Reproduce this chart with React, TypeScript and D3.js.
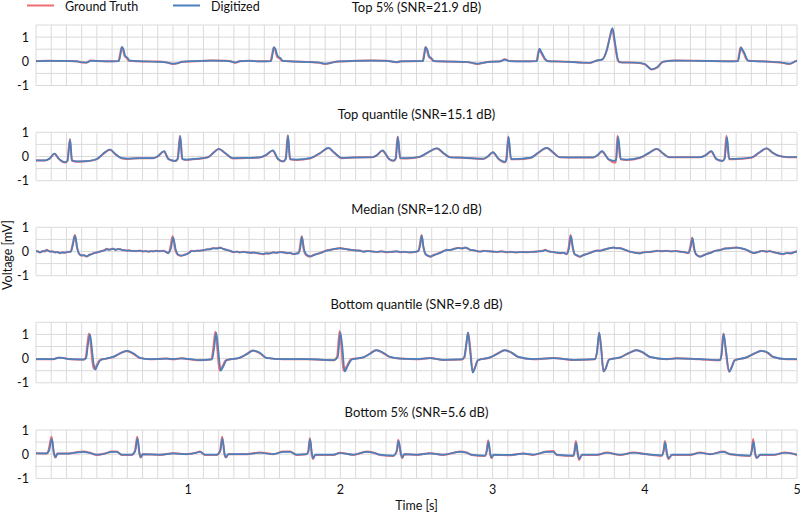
import React, { useEffect, useRef } from 'react'
import * as d3 from 'd3'

type Pt = [number, number]

// Panel titles and y ranges (mV)
const titles = [
  'Top 5% (SNR=21.9 dB)',
  'Top quantile (SNR=15.1 dB)',
  'Median (SNR=12.0 dB)',
  'Bottom quantile (SNR=9.8 dB)',
  'Bottom 5% (SNR=5.6 dB)',
]
const yDomains: Pt[] = [[-1, 1.5], [-1, 1], [-1, 1], [-1, 1.5], [-1, 1]]
const yTickValues = [-1, 0, 1]
const xTickValues = [1, 2, 3, 4, 5]
const legendLabels = ['Ground Truth', 'Digitized']

// Traces: [time s, voltage mV]
const truthTop5: Pt[] = [
  [0, 0.01], [0.08, 0.02], [0.18, 0.01], [0.27, 0.0], [0.3, -0.05], [0.33, -0.05], [0.36, 0.03], [0.4, 0.01], [0.47, 0.0],
  [0.54, 0.01], [0.553, 0.3], [0.562, 0.57], [0.572, 0.47], [0.582, 0.22], [0.592, 0.16], [0.6, 0.1], [0.61, 0.02],
  [0.7, -0.01], [0.8, -0.01], [0.86, -0.05], [0.9, -0.11], [0.93, -0.08], [0.96, -0.02], [1.05, 0.0], [1.15, 0.03],
  [1.25, 0.02], [1.29, -0.02], [1.31, -0.06], [1.34, 0.0], [1.4, 0.02], [1.47, 0.0], [1.54, 0.01], [1.552, 0.3],
  [1.561, 0.57], [1.571, 0.47], [1.582, 0.22], [1.594, 0.14], [1.605, 0.1], [1.615, 0.02], [1.7, -0.01], [1.8, -0.03],
  [1.86, -0.06], [1.9, -0.11], [1.94, -0.06], [1.98, -0.01], [2.1, 0.02], [2.2, 0.03], [2.3, 0.02], [2.35, -0.02],
  [2.37, -0.04], [2.4, 0.0], [2.54, 0.01], [2.55, 0.3], [2.558, 0.58], [2.568, 0.47], [2.58, 0.2], [2.59, 0.14],
  [2.6, 0.08], [2.612, 0.01], [2.7, -0.01], [2.83, -0.03], [2.88, -0.09], [2.9, -0.11], [2.94, -0.06], [2.98, -0.02],
  [3.05, 0.0], [3.08, 0.08], [3.11, 0.01], [3.2, 0.0], [3.288, 0.01], [3.298, 0.3], [3.306, 0.5], [3.318, 0.36],
  [3.33, 0.22], [3.345, 0.07], [3.36, 0.01], [3.5, -0.02], [3.6, -0.06], [3.64, -0.07], [3.684, 0.03], [3.72, 0.07],
  [3.75, 0.47], [3.771, 1.02], [3.785, 1.33], [3.804, 0.68], [3.822, 0.05], [3.835, -0.04], [3.947, -0.06],
  [4.0, -0.12], [4.045, -0.34], [4.08, -0.26], [4.12, -0.02], [4.2, 0.03], [4.35, 0.02], [4.45, 0.01], [4.55, 0.0],
  [4.61, 0.01], [4.62, 0.3], [4.629, 0.57], [4.64, 0.45], [4.652, 0.32], [4.665, 0.12], [4.68, 0.02], [4.8, -0.01],
  [4.9, -0.06], [4.95, -0.11], [4.99, 0.0], [5.0, 0.02],
]
const digitTop5: Pt[] = [
  [0, 0.0], [0.08, 0.02], [0.18, 0.02], [0.27, 0.0], [0.3, -0.04], [0.33, -0.06], [0.36, 0.02], [0.4, 0.02], [0.47, 0.0],
  [0.545, 0.01], [0.556, 0.32], [0.565, 0.6], [0.575, 0.5], [0.585, 0.25], [0.595, 0.17], [0.604, 0.12], [0.615, 0.03],
  [0.7, 0.0], [0.8, -0.02], [0.86, -0.05], [0.9, -0.1], [0.93, -0.08], [0.96, -0.02], [1.05, 0.01], [1.15, 0.03],
  [1.25, 0.02], [1.29, -0.02], [1.31, -0.05], [1.34, 0.01], [1.4, 0.02], [1.47, 0.0], [1.545, 0.01], [1.555, 0.32],
  [1.564, 0.59], [1.574, 0.5], [1.586, 0.25], [1.598, 0.16], [1.608, 0.12], [1.62, 0.02], [1.7, -0.01], [1.8, -0.03],
  [1.86, -0.05], [1.9, -0.1], [1.94, -0.06], [1.98, -0.01], [2.1, 0.02], [2.2, 0.03], [2.3, 0.02], [2.35, -0.02],
  [2.37, -0.03], [2.4, 0.0], [2.543, 0.01], [2.553, 0.32], [2.561, 0.59], [2.571, 0.49], [2.583, 0.22], [2.593, 0.15],
  [2.603, 0.09], [2.615, 0.01], [2.7, -0.01], [2.83, -0.03], [2.88, -0.08], [2.9, -0.1], [2.94, -0.06], [2.98, -0.02],
  [3.05, 0.0], [3.08, 0.07], [3.11, 0.01], [3.2, 0.0], [3.291, 0.01], [3.301, 0.32], [3.309, 0.52], [3.321, 0.38],
  [3.333, 0.24], [3.348, 0.08], [3.363, 0.01], [3.5, -0.02], [3.6, -0.06], [3.64, -0.06], [3.684, 0.03], [3.72, 0.08],
  [3.752, 0.49], [3.773, 1.05], [3.788, 1.37], [3.806, 0.7], [3.824, 0.06], [3.837, -0.04], [3.947, -0.06],
  [4.0, -0.11], [4.045, -0.33], [4.08, -0.25], [4.12, -0.02], [4.2, 0.03], [4.35, 0.02], [4.45, 0.01], [4.55, 0.0],
  [4.613, 0.01], [4.623, 0.32], [4.632, 0.58], [4.643, 0.47], [4.655, 0.34], [4.668, 0.13], [4.683, 0.02], [4.8, -0.01],
  [4.9, -0.05], [4.95, -0.1], [4.99, 0.0], [5.0, 0.02],
]

const truthTopQ: Pt[] = [
  [0, -0.17], [0.06, -0.17], [0.09, -0.08], [0.12, 0.11], [0.15, -0.1], [0.19, -0.25], [0.205, -0.2], [0.223, 0.72],
  [0.235, -0.17], [0.27, -0.22], [0.33, -0.2], [0.4, -0.11], [0.44, 0.1], [0.486, 0.28], [0.52, 0.1], [0.563, -0.07],
  [0.6, -0.1], [0.68, -0.07], [0.77, -0.07], [0.8, 0.0], [0.84, 0.21], [0.87, -0.11], [0.913, -0.19], [0.93, -0.1],
  [0.946, 0.86], [0.96, -0.11], [0.99, -0.14], [1.06, -0.1], [1.13, -0.03], [1.165, 0.15], [1.2, 0.31], [1.24, 0.15],
  [1.295, -0.08], [1.35, -0.07], [1.47, -0.04], [1.51, 0.05], [1.555, 0.24], [1.59, -0.11], [1.625, -0.21], [1.64, -0.1],
  [1.654, 0.88], [1.668, -0.11], [1.71, -0.14], [1.8, -0.08], [1.87, 0.15], [1.92, 0.35], [1.96, 0.15], [2.01, -0.07],
  [2.1, -0.04], [2.21, -0.03], [2.24, 0.05], [2.275, 0.24], [2.32, -0.11], [2.35, -0.18], [2.362, -0.1], [2.376, 0.83],
  [2.392, -0.07], [2.44, -0.08], [2.52, -0.02], [2.58, 0.18], [2.633, 0.33], [2.68, 0.12], [2.72, -0.03], [2.8, -0.05],
  [2.94, -0.1], [2.97, 0.0], [3.0, 0.17], [3.04, -0.11], [3.081, -0.24], [3.09, -0.1], [3.103, 0.83], [3.12, -0.11],
  [3.16, -0.11], [3.25, -0.06], [3.3, 0.15], [3.355, 0.35], [3.4, 0.15], [3.44, -0.03], [3.55, -0.04], [3.66, -0.04],
  [3.69, 0.05], [3.717, 0.21], [3.76, -0.11], [3.81, -0.25], [3.82, 0.86], [3.84, -0.11], [3.88, -0.14], [3.97, -0.05],
  [4.03, 0.15], [4.078, 0.31], [4.12, 0.12], [4.16, -0.03], [4.36, -0.03], [4.4, 0.05], [4.435, 0.21], [4.47, -0.11],
  [4.51, -0.19], [4.523, -0.1], [4.536, 0.86], [4.553, -0.11], [4.58, -0.11], [4.7, -0.05], [4.75, 0.15], [4.8, 0.33],
  [4.84, 0.15], [4.88, 0.03], [4.94, -0.03], [5.0, -0.03],
]
const digitTopQ: Pt[] = [
  [0, -0.16], [0.06, -0.16], [0.09, -0.08], [0.122, 0.12], [0.15, -0.09], [0.19, -0.23], [0.207, -0.18], [0.224, 0.7],
  [0.237, -0.16], [0.27, -0.2], [0.33, -0.19], [0.4, -0.1], [0.44, 0.11], [0.488, 0.29], [0.52, 0.11], [0.563, -0.07],
  [0.6, -0.09], [0.68, -0.07], [0.77, -0.07], [0.8, 0.01], [0.842, 0.22], [0.87, -0.1], [0.913, -0.18], [0.932, -0.09],
  [0.948, 0.84], [0.962, -0.11], [0.99, -0.13], [1.06, -0.09], [1.13, -0.03], [1.167, 0.16], [1.202, 0.32],
  [1.24, 0.16], [1.295, -0.07], [1.35, -0.06], [1.47, -0.04], [1.51, 0.06], [1.557, 0.25], [1.59, -0.1], [1.625, -0.2],
  [1.642, -0.09], [1.656, 0.86], [1.67, -0.11], [1.71, -0.13], [1.8, -0.07], [1.87, 0.16], [1.922, 0.36], [1.96, 0.16],
  [2.01, -0.06], [2.1, -0.04], [2.21, -0.03], [2.24, 0.06], [2.277, 0.25], [2.32, -0.1], [2.35, -0.17], [2.364, -0.09],
  [2.378, 0.81], [2.394, -0.07], [2.44, -0.07], [2.52, -0.01], [2.58, 0.19], [2.635, 0.34], [2.68, 0.13], [2.72, -0.03],
  [2.8, -0.05], [2.94, -0.09], [2.97, 0.01], [3.002, 0.18], [3.04, -0.1], [3.081, -0.22], [3.092, -0.09], [3.105, 0.81],
  [3.122, -0.11], [3.16, -0.1], [3.25, -0.05], [3.3, 0.16], [3.357, 0.36], [3.4, 0.16], [3.44, -0.03], [3.55, -0.04],
  [3.66, -0.04], [3.69, 0.06], [3.719, 0.22], [3.76, -0.1], [3.8, -0.18], [3.812, -0.12], [3.825, 0.82], [3.843, -0.11],
  [3.88, -0.13], [3.97, -0.04], [4.03, 0.16], [4.08, 0.32], [4.12, 0.13], [4.16, -0.03], [4.36, -0.03], [4.4, 0.06],
  [4.437, 0.22], [4.47, -0.1], [4.51, -0.18], [4.525, -0.09], [4.54, 0.8], [4.556, -0.11], [4.58, -0.1], [4.7, -0.04],
  [4.75, 0.16], [4.802, 0.34], [4.84, 0.16], [4.88, 0.03], [4.94, -0.02], [5.0, -0.02],
]

const truthMedian: Pt[] = [
  [0, 0.03], [0.013, -0.01], [0.026, -0.03], [0.045, 0.02], [0.06, 0.0], [0.07, 0.07], [0.08, 0.03], [0.092, 0.0],
  [0.105, 0.01], [0.125, -0.03], [0.14, -0.02], [0.158, -0.07], [0.172, -0.03], [0.185, -0.05], [0.2, -0.03],
  [0.215, -0.01], [0.228, 0.0], [0.24, 0.28], [0.255, 0.68], [0.27, 0.14], [0.285, -0.11], [0.3, -0.17], [0.315, -0.15],
  [0.333, -0.21], [0.35, -0.13], [0.366, -0.11], [0.38, -0.06], [0.395, -0.05], [0.42, 0.0], [0.435, 0.02], [0.45, 0.06],
  [0.464, 0.11], [0.478, 0.07], [0.493, 0.1], [0.508, 0.11], [0.52, 0.07], [0.535, 0.09], [0.552, 0.1], [0.568, 0.05],
  [0.58, 0.06], [0.596, 0.03], [0.61, 0.05], [0.625, 0.02], [0.64, 0.03], [0.66, 0.01], [0.68, 0.04], [0.705, 0.0],
  [0.72, 0.02], [0.74, -0.01], [0.755, 0.02], [0.771, 0.0], [0.79, 0.03], [0.81, 0.01], [0.837, 0.03], [0.855, -0.02],
  [0.868, -0.07], [0.882, 0.14], [0.897, 0.63], [0.915, 0.07], [0.932, -0.14], [0.955, -0.18], [0.975, -0.13],
  [0.99, -0.11], [1.005, -0.04], [1.023, 0.03], [1.04, 0.01], [1.06, 0.04], [1.078, 0.03], [1.1, 0.06], [1.12, 0.08],
  [1.14, 0.1], [1.165, 0.14], [1.185, 0.12], [1.209, 0.17], [1.23, 0.1], [1.253, 0.07], [1.275, 0.02], [1.297, -0.03],
  [1.32, 0.0], [1.34, -0.04], [1.36, -0.01], [1.384, -0.03], [1.41, -0.06], [1.43, -0.04], [1.46, -0.08], [1.494, -0.11],
  [1.51, -0.07], [1.53, -0.09], [1.56, -0.03], [1.58, -0.06], [1.6, -0.02], [1.625, -0.03], [1.645, -0.07],
  [1.67, -0.06], [1.691, -0.11], [1.71, -0.08], [1.723, -0.07], [1.733, 0.14], [1.745, 0.63], [1.759, 0.07],
  [1.774, -0.14], [1.8, -0.21], [1.82, -0.15], [1.844, -0.11], [1.87, -0.05], [1.9, 0.02], [1.932, 0.07], [1.96, 0.1],
  [1.997, 0.14], [2.02, 0.11], [2.041, 0.1], [2.07, 0.06], [2.1, 0.05], [2.129, 0.03], [2.15, 0.0], [2.18, 0.02],
  [2.216, 0.0], [2.24, -0.02], [2.27, 0.01], [2.304, -0.03], [2.33, -0.01], [2.37, 0.0], [2.392, -0.03], [2.42, -0.01],
  [2.45, -0.04], [2.479, -0.03], [2.5, 0.0], [2.512, 0.03], [2.522, 0.28], [2.533, 0.68], [2.544, 0.21], [2.559, -0.11],
  [2.575, -0.18], [2.589, -0.22], [2.61, -0.15], [2.632, -0.11], [2.66, -0.03], [2.68, 0.02], [2.698, 0.07],
  [2.72, 0.06], [2.745, 0.11], [2.775, 0.14], [2.8, 0.13], [2.819, 0.17], [2.835, 0.12], [2.852, 0.07], [2.88, 0.04],
  [2.917, 0.0], [2.94, 0.03], [2.965, 0.01], [3.005, 0.0], [3.03, -0.02], [3.06, 0.01], [3.092, -0.03], [3.12, -0.01],
  [3.15, -0.04], [3.18, -0.02], [3.224, -0.03], [3.26, -0.01], [3.3, 0.0], [3.33, 0.03], [3.345, 0.07], [3.36, 0.02],
  [3.377, 0.0], [3.41, -0.04], [3.443, -0.07], [3.465, -0.05], [3.486, -0.11], [3.499, 0.14], [3.512, 0.68],
  [3.525, 0.17], [3.538, -0.11], [3.555, -0.17], [3.574, -0.22], [3.595, -0.14], [3.618, -0.11], [3.64, -0.05],
  [3.66, -0.01], [3.685, 0.04], [3.705, 0.03], [3.73, 0.08], [3.76, 0.12], [3.793, 0.17], [3.815, 0.13], [3.837, 0.14],
  [3.87, 0.06], [3.902, 0.0], [3.93, -0.05], [3.968, -0.07], [3.99, -0.04], [4.02, -0.02], [4.055, 0.0], [4.08, 0.03],
  [4.11, 0.01], [4.143, 0.03], [4.17, 0.0], [4.2, 0.02], [4.23, 0.0], [4.26, -0.03], [4.285, -0.07], [4.297, 0.14],
  [4.311, 0.58], [4.322, 0.14], [4.335, -0.11], [4.363, -0.22], [4.385, -0.15], [4.406, -0.11], [4.43, -0.05],
  [4.46, 0.02], [4.494, 0.07], [4.53, 0.12], [4.56, 0.14], [4.603, 0.17], [4.63, 0.13], [4.669, 0.07], [4.69, -0.01],
  [4.713, -0.07], [4.74, -0.02], [4.77, 0.02], [4.8, 0.0], [4.82, 0.02], [4.844, -0.03], [4.87, -0.06], [4.909, -0.11],
  [4.93, -0.06], [4.96, -0.08], [4.98, -0.02], [5.0, 0.0],
]
const digitMedian: Pt[] = [
  [0, 0.02], [0.015, 0.0], [0.028, -0.04], [0.045, 0.01], [0.058, 0.02], [0.07, 0.06], [0.085, 0.02], [0.095, -0.01],
  [0.11, 0.0], [0.125, -0.04], [0.142, -0.03], [0.16, -0.06], [0.175, -0.04], [0.19, -0.05], [0.205, -0.02],
  [0.218, -0.02], [0.23, 0.0], [0.242, 0.26], [0.257, 0.66], [0.272, 0.12], [0.287, -0.12], [0.302, -0.16],
  [0.318, -0.16], [0.334, -0.2], [0.352, -0.14], [0.368, -0.1], [0.382, -0.07], [0.398, -0.04], [0.42, -0.01],
  [0.437, 0.03], [0.452, 0.05], [0.466, 0.1], [0.48, 0.08], [0.495, 0.09], [0.51, 0.12], [0.522, 0.06], [0.537, 0.1],
  [0.554, 0.09], [0.57, 0.06], [0.583, 0.05], [0.598, 0.04], [0.612, 0.04], [0.628, 0.03], [0.643, 0.02], [0.662, 0.02],
  [0.682, 0.03], [0.707, 0.01], [0.722, 0.01], [0.742, 0.0], [0.757, 0.01], [0.773, 0.01], [0.792, 0.02], [0.812, 0.02],
  [0.84, 0.02], [0.857, -0.03], [0.87, -0.06], [0.886, 0.12], [0.901, 0.58], [0.919, 0.06], [0.936, -0.13],
  [0.958, -0.17], [0.977, -0.14], [0.992, -0.1], [1.007, -0.05], [1.025, 0.02], [1.042, 0.02], [1.062, 0.03],
  [1.08, 0.04], [1.102, 0.05], [1.122, 0.09], [1.142, 0.09], [1.167, 0.13], [1.188, 0.13], [1.211, 0.15], [1.232, 0.11],
  [1.255, 0.06], [1.277, 0.03], [1.299, -0.02], [1.322, -0.01], [1.342, -0.03], [1.362, -0.02], [1.386, -0.04],
  [1.412, -0.05], [1.432, -0.05], [1.462, -0.07], [1.496, -0.1], [1.512, -0.08], [1.532, -0.08], [1.562, -0.04],
  [1.582, -0.05], [1.602, -0.03], [1.627, -0.04], [1.647, -0.06], [1.672, -0.07], [1.693, -0.1], [1.712, -0.09],
  [1.726, -0.06], [1.736, 0.13], [1.748, 0.61], [1.762, 0.06], [1.777, -0.13], [1.802, -0.2], [1.822, -0.16],
  [1.846, -0.1], [1.872, -0.06], [1.902, 0.03], [1.934, 0.06], [1.962, 0.11], [1.999, 0.13], [2.022, 0.12],
  [2.043, 0.09], [2.072, 0.07], [2.102, 0.04], [2.131, 0.04], [2.152, -0.01], [2.182, 0.02], [2.218, -0.01],
  [2.242, -0.01], [2.272, 0.0], [2.306, -0.02], [2.332, -0.02], [2.372, 0.01], [2.394, -0.02], [2.422, -0.02],
  [2.452, -0.03], [2.481, -0.02], [2.502, -0.01], [2.514, 0.04], [2.524, 0.26], [2.535, 0.66], [2.546, 0.19],
  [2.561, -0.12], [2.577, -0.17], [2.591, -0.21], [2.612, -0.16], [2.634, -0.1], [2.662, -0.04], [2.682, 0.03],
  [2.7, 0.06], [2.722, 0.07], [2.747, 0.1], [2.777, 0.15], [2.802, 0.12], [2.821, 0.16], [2.837, 0.13], [2.854, 0.06],
  [2.882, 0.05], [2.919, -0.01], [2.942, 0.02], [2.967, 0.02], [3.007, -0.01], [3.032, -0.01], [3.062, 0.0],
  [3.094, -0.02], [3.122, -0.02], [3.152, -0.03], [3.182, -0.03], [3.226, -0.02], [3.262, -0.02], [3.302, 0.01],
  [3.332, 0.02], [3.347, 0.06], [3.362, 0.03], [3.379, -0.01], [3.412, -0.03], [3.445, -0.06], [3.467, -0.06],
  [3.489, -0.1], [3.502, 0.13], [3.515, 0.65], [3.528, 0.16], [3.541, -0.12], [3.557, -0.16], [3.576, -0.21],
  [3.597, -0.15], [3.62, -0.1], [3.642, -0.06], [3.662, 0.0], [3.687, 0.03], [3.707, 0.04], [3.732, 0.07],
  [3.762, 0.13], [3.795, 0.16], [3.817, 0.14], [3.839, 0.13], [3.872, 0.07], [3.904, -0.01], [3.932, -0.04],
  [3.97, -0.08], [3.992, -0.03], [4.022, -0.03], [4.057, 0.01], [4.082, 0.02], [4.112, 0.02], [4.145, 0.02],
  [4.172, 0.01], [4.202, 0.01], [4.232, -0.01], [4.262, -0.02], [4.287, -0.06], [4.3, 0.13], [4.314, 0.55],
  [4.325, 0.13], [4.338, -0.12], [4.365, -0.21], [4.387, -0.16], [4.408, -0.1], [4.432, -0.06], [4.462, 0.03],
  [4.496, 0.06], [4.532, 0.13], [4.562, 0.13], [4.605, 0.16], [4.632, 0.14], [4.671, 0.06], [4.692, 0.0],
  [4.715, -0.06], [4.742, -0.03], [4.772, 0.03], [4.802, -0.01], [4.822, 0.01], [4.846, -0.02], [4.872, -0.07],
  [4.911, -0.1], [4.932, -0.07], [4.962, -0.07], [4.982, -0.03], [5.0, 0.01],
]

const truthBottomQ: Pt[] = [
  [0, -0.03], [0.114, -0.03], [0.147, 0.04], [0.18, 0.03], [0.223, -0.03], [0.311, -0.04], [0.326, 0.03], [0.337, 0.56],
  [0.348, 1.04], [0.36, 0.56], [0.371, -0.14], [0.381, -0.42], [0.395, -0.31], [0.418, -0.07], [0.464, 0.0],
  [0.508, 0.07], [0.55, 0.21], [0.592, 0.31], [0.636, 0.21], [0.68, 0.03], [0.749, -0.03], [0.858, 0.0], [0.902, -0.03],
  [0.957, 0.01], [1.012, -0.03], [1.077, -0.07], [1.152, -0.03], [1.165, 0.42], [1.178, 1.11], [1.191, 0.42],
  [1.206, -0.49], [1.222, -0.35], [1.248, -0.07], [1.336, 0.03], [1.38, 0.17], [1.424, 0.33], [1.467, 0.24],
  [1.511, 0.03], [1.625, -0.03], [1.778, -0.03], [1.953, -0.07], [1.978, 0.07], [1.995, 1.14], [2.008, 0.42],
  [2.02, -0.49], [2.042, -0.31], [2.07, -0.03], [2.146, 0.04], [2.19, 0.19], [2.234, 0.35], [2.278, 0.24],
  [2.322, 0.07], [2.392, 0.0], [2.5, -0.03], [2.589, 0.02], [2.676, -0.06], [2.797, -0.04], [2.816, 0.07],
  [2.827, 0.56], [2.84, 1.07], [2.853, 0.42], [2.87, -0.56], [2.883, -0.39], [2.903, -0.07], [2.98, 0.04],
  [3.034, 0.21], [3.078, 0.35], [3.122, 0.25], [3.166, 0.07], [3.267, -0.03], [3.399, 0.02], [3.531, -0.06],
  [3.673, -0.03], [3.686, 0.28], [3.701, 1.07], [3.714, 0.42], [3.729, -0.53], [3.742, -0.42], [3.764, -0.04],
  [3.834, 0.04], [3.889, 0.21], [3.944, 0.35], [3.987, 0.25], [4.031, 0.07], [4.144, -0.03], [4.21, 0.01],
  [4.363, -0.03], [4.494, -0.07], [4.503, 0.14], [4.516, 1.04], [4.53, 0.42], [4.552, -0.53], [4.567, -0.39],
  [4.589, -0.07], [4.665, 0.04], [4.72, 0.21], [4.764, 0.32], [4.807, 0.24], [4.84, 0.07], [4.931, -0.03], [5.0, -0.03],
]
const digitBottomQ: Pt[] = [
  [0, -0.02], [0.114, -0.02], [0.15, 0.04], [0.18, 0.02], [0.223, -0.02], [0.313, -0.04], [0.33, 0.03], [0.341, 0.56],
  [0.355, 1.0], [0.366, 0.5], [0.377, -0.14], [0.39, -0.46], [0.402, -0.3], [0.424, -0.06], [0.466, 0.01],
  [0.512, 0.08], [0.555, 0.22], [0.598, 0.32], [0.64, 0.22], [0.684, 0.03], [0.749, -0.02], [0.858, 0.0], [0.902, -0.02],
  [0.957, 0.01], [1.012, -0.02], [1.077, -0.06], [1.157, -0.03], [1.17, 0.42], [1.184, 1.07], [1.197, 0.4],
  [1.214, -0.5], [1.229, -0.35], [1.254, -0.06], [1.34, 0.04], [1.384, 0.18], [1.428, 0.33], [1.471, 0.24],
  [1.515, 0.03], [1.625, -0.02], [1.778, -0.02], [1.955, -0.06], [1.983, 0.07], [2.0, 1.08], [2.014, 0.4],
  [2.028, -0.53], [2.048, -0.31], [2.076, -0.03], [2.15, 0.05], [2.195, 0.2], [2.238, 0.35], [2.282, 0.24],
  [2.326, 0.07], [2.392, 0.0], [2.5, -0.02], [2.589, 0.02], [2.676, -0.05], [2.797, -0.03], [2.814, 0.07],
  [2.826, 0.56], [2.838, 1.08], [2.851, 0.4], [2.869, -0.58], [2.883, -0.39], [2.905, -0.06], [2.983, 0.05],
  [3.037, 0.22], [3.081, 0.35], [3.125, 0.25], [3.169, 0.07], [3.267, -0.02], [3.399, 0.02], [3.531, -0.05],
  [3.673, -0.02], [3.686, 0.28], [3.7, 1.07], [3.713, 0.42], [3.728, -0.53], [3.742, -0.42], [3.767, -0.04],
  [3.837, 0.05], [3.892, 0.22], [3.947, 0.35], [3.99, 0.25], [4.034, 0.07], [4.144, -0.02], [4.21, 0.01],
  [4.363, -0.02], [4.494, -0.06], [4.504, 0.14], [4.518, 1.02], [4.532, 0.42], [4.555, -0.55], [4.57, -0.39],
  [4.592, -0.07], [4.668, 0.05], [4.723, 0.22], [4.767, 0.32], [4.81, 0.24], [4.843, 0.07], [4.931, -0.02], [5.0, -0.02],
]

const truthBottom5: Pt[] = [
  [0, 0.04], [0.07, 0.03], [0.083, 0.17], [0.102, 0.72], [0.116, 0.07], [0.127, -0.14], [0.14, 0.03], [0.2, 0.03],
  [0.256, 0.07], [0.311, 0.11], [0.355, 0.06], [0.398, -0.03], [0.453, 0.03], [0.497, 0.11], [0.53, 0.11],
  [0.563, -0.03], [0.628, -0.03], [0.65, 0.14], [0.665, 0.72], [0.679, 0.03], [0.688, -0.14], [0.7, 0.0],
  [0.815, -0.03], [0.902, 0.04], [0.99, 0.0], [1.055, 0.07], [1.077, 0.11], [1.11, -0.03], [1.187, -0.03],
  [1.209, 0.14], [1.223, 0.72], [1.237, 0.03], [1.248, -0.14], [1.262, 0.0], [1.384, 0.0], [1.471, 0.07],
  [1.559, 0.0], [1.625, 0.11], [1.669, 0.11], [1.713, -0.03], [1.778, 0.0], [1.789, 0.14], [1.799, 0.66],
  [1.811, 0.03], [1.82, -0.2], [1.833, -0.03], [1.953, -0.03], [1.997, 0.06], [2.085, -0.03], [2.172, 0.11],
  [2.216, 0.07], [2.26, -0.03], [2.348, -0.07], [2.37, 0.14], [2.38, 0.6], [2.396, 0.03], [2.405, -0.16],
  [2.418, 0.0], [2.5, -0.03], [2.589, 0.04], [2.676, -0.03], [2.786, 0.11], [2.83, 0.07], [2.862, -0.03],
  [2.95, -0.07], [2.961, 0.14], [2.971, 0.58], [2.983, 0.03], [2.992, -0.16], [3.005, -0.03], [3.114, -0.04],
  [3.202, 0.03], [3.267, -0.03], [3.355, 0.11], [3.399, 0.13], [3.421, -0.03], [3.531, -0.07], [3.537, 0.11],
  [3.547, 0.55], [3.559, 0.0], [3.568, -0.24], [3.586, -0.03], [3.685, -0.03], [3.75, 0.07], [3.838, -0.03],
  [3.926, 0.07], [4.013, 0.0], [4.112, -0.06], [4.123, 0.14], [4.132, 0.55], [4.144, 0.03], [4.155, -0.2],
  [4.177, -0.03], [4.297, -0.03], [4.363, 0.07], [4.429, 0.0], [4.516, 0.11], [4.56, 0.0], [4.691, -0.07],
  [4.702, 0.14], [4.712, 0.63], [4.724, 0.03], [4.735, -0.16], [4.757, -0.03], [4.844, -0.03], [4.921, 0.07],
  [5.0, -0.03],
]
const digitBottom5: Pt[] = [
  [0, 0.03], [0.07, 0.03], [0.086, 0.15], [0.104, 0.63], [0.118, 0.06], [0.129, -0.12], [0.142, 0.02], [0.2, 0.02],
  [0.256, 0.06], [0.311, 0.1], [0.355, 0.05], [0.398, -0.02], [0.453, 0.02], [0.497, 0.1], [0.53, 0.1],
  [0.563, -0.02], [0.628, -0.02], [0.652, 0.13], [0.667, 0.66], [0.681, 0.03], [0.69, -0.12], [0.702, 0.0],
  [0.815, -0.02], [0.902, 0.03], [0.99, 0.0], [1.055, 0.06], [1.077, 0.1], [1.11, -0.02], [1.187, -0.02],
  [1.211, 0.13], [1.225, 0.66], [1.239, 0.03], [1.25, -0.12], [1.264, 0.0], [1.384, 0.0], [1.471, 0.06],
  [1.559, 0.0], [1.625, 0.1], [1.669, 0.1], [1.713, -0.02], [1.778, 0.0], [1.79, 0.13], [1.801, 0.62],
  [1.813, 0.03], [1.822, -0.17], [1.835, -0.02], [1.953, -0.02], [1.997, 0.05], [2.085, -0.02], [2.172, 0.1],
  [2.216, 0.06], [2.26, -0.02], [2.348, -0.06], [2.371, 0.13], [2.382, 0.55], [2.398, 0.03], [2.407, -0.14],
  [2.42, 0.0], [2.5, -0.02], [2.589, 0.03], [2.676, -0.02], [2.786, 0.1], [2.83, 0.06], [2.862, -0.02],
  [2.95, -0.06], [2.962, 0.13], [2.973, 0.52], [2.985, 0.03], [2.994, -0.13], [3.007, -0.02], [3.114, -0.03],
  [3.202, 0.02], [3.267, -0.02], [3.355, 0.1], [3.399, 0.1], [3.421, -0.02], [3.531, -0.06], [3.539, 0.1],
  [3.549, 0.48], [3.561, 0.0], [3.57, -0.19], [3.588, -0.02], [3.685, -0.02], [3.75, 0.06], [3.838, -0.02],
  [3.926, 0.06], [4.013, 0.0], [4.112, -0.05], [4.124, 0.13], [4.134, 0.5], [4.146, 0.03], [4.157, -0.16],
  [4.179, -0.02], [4.297, -0.02], [4.363, 0.06], [4.429, 0.0], [4.516, 0.1], [4.56, 0.0], [4.691, -0.06],
  [4.703, 0.13], [4.714, 0.52], [4.726, 0.03], [4.737, -0.14], [4.759, -0.02], [4.844, -0.02], [4.921, 0.06],
  [5.0, -0.02],
]

const truthSeries = [truthTop5, truthTopQ, truthMedian, truthBottomQ, truthBottom5]
const digitSeries = [digitTop5, digitTopQ, digitMedian, digitBottomQ, digitBottom5]

const RED = '#ee6e73'
const BLUE = '#4a80bd'
const GRID = '#dadada'
const FONT = 'Lato, "DejaVu Sans", sans-serif'

export default function App() {
  const svgRef = useRef<SVGSVGElement>(null)

  useEffect(() => {
    const svg = d3.select(svgRef.current)
    svg.selectAll('*').remove()

    const x = d3.scaleLinear().domain([0, 5]).range([36, 797])
    const pxPerMv = 24.2
    const panelTops = [25, 132.3, 227.3, 322.3, 430]

    titles.forEach((title, i) => {
      const dom = yDomains[i]
      const top = panelTops[i]
      const bottom = top + (dom[1] - dom[0]) * pxPerMv
      const y = d3.scaleLinear().domain(dom).range([bottom, top])
      const g = svg.append('g')

      // grid: 0.1 s by 0.5 mV
      g.append('g')
        .selectAll('line')
        .data(d3.range(0, 51).map(k => k / 10))
        .join('line')
        .attr('x1', d => x(d)).attr('x2', d => x(d))
        .attr('y1', top).attr('y2', bottom)
        .attr('stroke', GRID).attr('stroke-width', 1)
      g.append('g')
        .selectAll('line')
        .data(d3.range(dom[0], dom[1] + 0.01, 0.5))
        .join('line')
        .attr('x1', x(0)).attr('x2', x(5))
        .attr('y1', d => y(d)).attr('y2', d => y(d))
        .attr('stroke', GRID).attr('stroke-width', 1)

      // y tick labels
      g.append('g')
        .selectAll('text')
        .data(yTickValues)
        .join('text')
        .attr('x', 29)
        .attr('y', d => y(d) + 4.5)
        .attr('text-anchor', 'end')
        .attr('font-family', FONT)
        .attr('font-size', 12.5)
        .attr('fill', '#111')
        .text(d => String(d))

      g.append('text')
        .attr('x', 416.5)
        .attr('y', top - 13)
        .attr('text-anchor', 'middle')
        .attr('font-family', FONT)
        .attr('font-size', 13)
        .attr('fill', '#111')
        .text(title)

      const clipId = `clip-${i}`
      g.append('clipPath').attr('id', clipId)
        .append('rect')
        .attr('x', x(0)).attr('y', top - 20)
        .attr('width', x(5) - x(0)).attr('height', bottom - top + 40)

      const line = d3.line<Pt>()
        .x(d => x(d[0]))
        .y(d => y(d[1]))
        .curve(d3.curveMonotoneX)

      g.append('path')
        .datum(truthSeries[i])
        .attr('clip-path', `url(#${clipId})`)
        .attr('d', line)
        .attr('fill', 'none')
        .attr('stroke', RED)
        .attr('stroke-width', 2)
        .attr('stroke-linejoin', 'round')

      g.append('path')
        .datum(digitSeries[i])
        .attr('clip-path', `url(#${clipId})`)
        .attr('d', line)
        .attr('fill', 'none')
        .attr('stroke', BLUE)
        .attr('stroke-width', 1.7)
        .attr('stroke-linejoin', 'round')

      if (i === titles.length - 1) {
        g.append('g')
          .selectAll('text')
          .data(xTickValues)
          .join('text')
          .attr('x', d => x(d))
          .attr('y', bottom + 16)
          .attr('text-anchor', 'middle')
          .attr('font-family', FONT)
          .attr('font-size', 12.5)
          .attr('fill', '#111')
          .text(d => String(d))
      }
    })

    svg.append('text')
      .attr('x', 416.5)
      .attr('y', 510)
      .attr('text-anchor', 'middle')
      .attr('font-family', FONT)
      .attr('font-size', 12.5)
      .attr('fill', '#111')
      .text('Time [s]')

    svg.append('text')
      .attr('transform', 'translate(12,255) rotate(-90)')
      .attr('text-anchor', 'middle')
      .attr('font-family', FONT)
      .attr('font-size', 12.5)
      .attr('fill', '#111')
      .text('Voltage [mV]')

    // legend
    const legendX = [27, 173]
    const legendColors = [RED, BLUE]
    const lg = svg.append('g')
    legendLabels.forEach((label, k) => {
      lg.append('line')
        .attr('x1', legendX[k]).attr('x2', legendX[k] + 27)
        .attr('y1', 5.5).attr('y2', 5.5)
        .attr('stroke', legendColors[k]).attr('stroke-width', 2)
      lg.append('text')
        .attr('x', legendX[k] + 38)
        .attr('y', 10.5)
        .attr('font-family', FONT)
        .attr('font-size', 12.5)
        .attr('fill', '#111')
        .text(label)
    })
  }, [])

  return (
    <svg
      ref={svgRef}
      width={800}
      height={515}
      style={{ position: 'absolute', left: 0, top: 0, background: '#fff' }}
    />
  )
}
